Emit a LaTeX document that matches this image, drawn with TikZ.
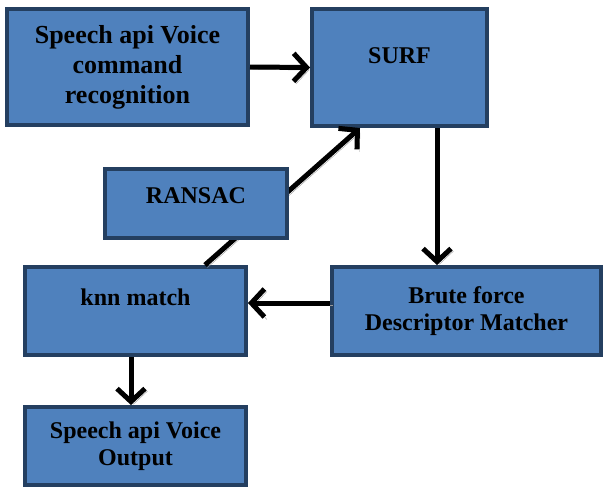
\documentclass[tikz,border=0pt]{standalone}
\usepackage{fontspec}
\setmainfont{Liberation Serif}
\usetikzlibrary{arrows.meta}
\definecolor{boxfill}{HTML}{4F81BD}
\definecolor{boxline}{HTML}{243F60}
\begin{document}
\begin{tikzpicture}[x=1pt,y=-1pt,
  block/.style={draw=boxline,fill=boxfill,line width=4pt,align=center,inner sep=0pt,
    font=\fontsize{24}{27}\selectfont\bfseries},
  link/.style={line width=5pt,-{Straight Barb[length=13pt,width=28pt]},
    preaction={draw=gray!80,transform canvas={xshift=2.5pt,yshift=-2.5pt}}}]
  \useasboundingbox (0,0) rectangle (605,488);
  \node[block,minimum width=241pt,minimum height=116pt,font=\fontsize{26}{30}\selectfont\bfseries]
    (cmd) at (127.5,67) {Speech api Voice\\command\\recognition};
  \node[block,minimum width=175pt,minimum height=117pt,text height=16pt,text depth=25pt]
    (surf) at (399.5,67.5) {SURF};
  \node[block,minimum width=221pt,minimum height=88pt,text height=16pt,text depth=28pt]
    (knn) at (135.5,311) {knn match};
  \node[block,minimum width=269pt,minimum height=88pt]
    (brute) at (466.5,311) {Brute force\\Descriptor Matcher};
  \node[block,minimum width=221pt,minimum height=78pt]
    (out) at (135.5,446) {Speech api Voice\\Output};
  \coordinate (surfout) at ([xshift=37.5pt]surf.south);
  \coordinate (knnout) at ([xshift=-4.5pt]knn.south);
  \draw[link] (cmd.east) -- (surf.west);
  \draw[link] (surfout) -- (surfout |- brute.north);
  \draw[link] ([yshift=8pt]brute.west) -- ([yshift=8pt]knn.east);
  \draw[link] (knnout) -- (knnout |- out.north);
  \draw[link] ([xshift=69.5pt]knn.north) -- ([xshift=-39.5pt]surf.south);
  \node[block,minimum width=182pt,minimum height=69pt,text height=16pt,text depth=17pt]
    (ransac) at (196,203.5) {RANSAC};
\end{tikzpicture}
\end{document}
